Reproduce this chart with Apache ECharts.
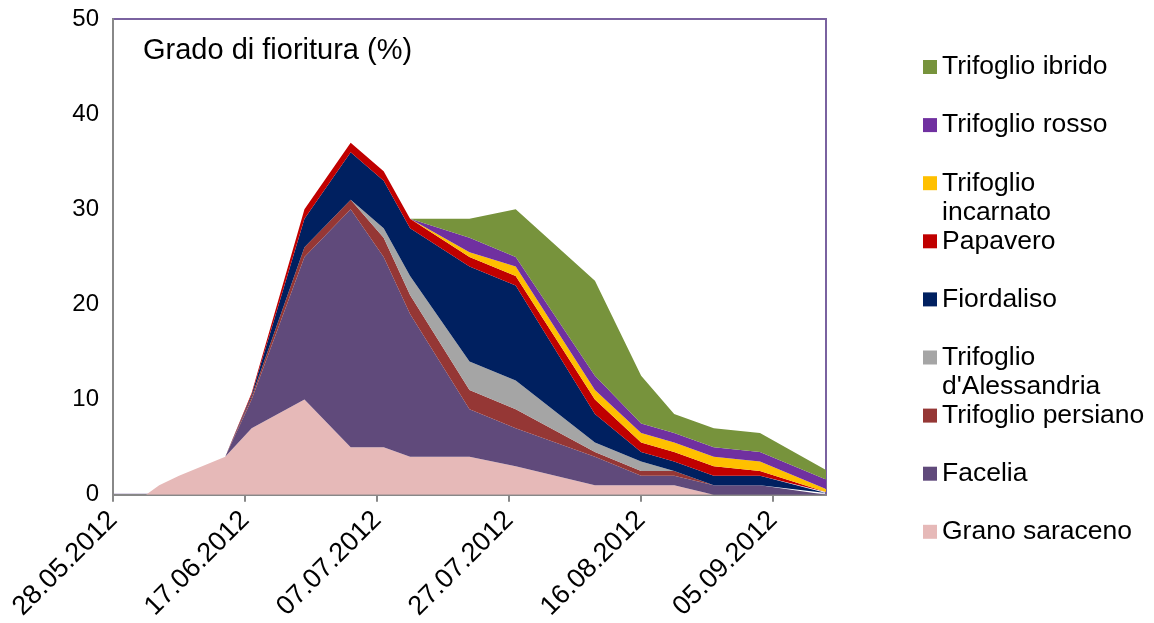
<!DOCTYPE html>
<html lang="it">
<head>
<meta charset="UTF-8">
<title>Grado di fioritura</title>
<style>
  * { margin: 0; padding: 0; }
  body { background: #fff; }
  #chart { width: 1154px; height: 623px; }
</style>
</head>
<body>
<div id="chart"></div>
<script src="https://cdn.jsdelivr.net/npm/echarts@6/dist/echarts.min.js"></script>
<script>
  // sampling dates (dd.mm.yyyy)
  var dates = ['02.06.2012', '04.06.2012', '07.06.2012', '14.06.2012', '18.06.2012', '26.06.2012',
    '03.07.2012', '08.07.2012', '12.07.2012', '21.07.2012', '28.07.2012', '09.08.2012',
    '16.08.2012', '21.08.2012', '27.08.2012', '03.09.2012', '13.09.2012'];
  var axisStart = '28.05.2012';
  var axisEnd = '13.09.2012';

  // values per species, % of flowering (stacked from the bottom up)
  var granoSaraceno = [0, 1, 2, 4, 7, 10, 5, 5, 4, 4, 3, 1, 1, 1, 0, 0, 0];
  var facelia = [0, 0, 0, 0, 3, 15, 25, 20, 15, 5, 4, 3, 1, 1, 1, 1, 0];
  var trifoglioPersiano = [0, 0, 0, 0, 0.3, 1, 1, 2, 2, 2, 2, 0.5, 0.5, 0.5, 0, 0, 0];
  var trifoglioAlessandria = [0, 0, 0, 0, 0, 0, 0, 1, 2, 3, 3, 1, 1, 0, 0, 0, 0];
  var fiordaliso = [0, 0, 0, 0, 0.2, 3, 5, 5, 5, 10, 10, 3, 1, 1, 1, 1, 0.2];
  var papavero = [0, 0, 0, 0, 0.2, 1, 1, 1, 1, 1, 1, 1.5, 1, 1, 1, 0.5, 0.1];
  var trifoglioIncarnato = [0, 0, 0, 0, 0, 0, 0, 0, 0, 0.5, 1, 1, 1, 1, 1, 1, 0.3];
  var trifoglioRosso = [0, 0, 0, 0, 0, 0, 0, 0, 0, 1.5, 1, 1.5, 1, 1, 1, 1, 1];
  var trifoglioIbrido = [0, 0, 0, 0, 0, 0, 0, 0, 0, 2, 5, 10, 5, 2, 2, 2, 1];

  var yTicks = [0, 10, 20, 30, 40, 50];

  var species = [
    { name: 'Grano saraceno', data: granoSaraceno, color: '#E6B9B8' },
    { name: 'Facelia', data: facelia, color: '#604A7B' },
    { name: 'Trifoglio persiano', data: trifoglioPersiano, color: '#953735' },
    { name: "Trifoglio d'Alessandria", data: trifoglioAlessandria, color: '#A5A5A5' },
    { name: 'Fiordaliso', data: fiordaliso, color: '#002060' },
    { name: 'Papavero', data: papavero, color: '#C00000' },
    { name: 'Trifoglio incarnato', data: trifoglioIncarnato, color: '#FFC000' },
    { name: 'Trifoglio rosso', data: trifoglioRosso, color: '#7030A0' },
    { name: 'Trifoglio ibrido', data: trifoglioIbrido, color: '#77933C' }
  ];

  // legend entries that wrap on two lines; the leading empty line keeps
  // the square next to the first line (legend text is centred on the icon)
  var wrapped = {
    'Trifoglio incarnato': '\nTrifoglio\nincarnato',
    "Trifoglio d'Alessandria": "\nTrifoglio\nd'Alessandria"
  };

  var font = '"Liberation Sans", Arial, sans-serif';
  var DAY = 86400000;

  function toTime(s) {
    var p = s.split('.');
    return Date.UTC(+p[2], +p[1] - 1, +p[0]);
  }
  var t0 = toTime(axisStart);
  function dayOffset(s) { return Math.round((toTime(s) - t0) / DAY); }
  function two(n) { return (n < 10 ? '0' : '') + n; }
  function dayLabel(v) {
    var d = new Date(t0 + v * DAY);
    return two(d.getUTCDate()) + '.' + two(d.getUTCMonth() + 1) + '.' + d.getUTCFullYear();
  }

  var xs = dates.map(dayOffset);

  // points are [value, day] with encode, so the stack goes on the value
  // (first dimension) and not on the day axis
  var series = species.map(function (s) {
    return {
      name: s.name,
      type: 'line',
      stack: 'fioritura',
      symbol: 'none',
      encode: { x: 1, y: 0 },
      lineStyle: { width: 0 },
      itemStyle: { color: s.color },
      areaStyle: { color: s.color, opacity: 1 },
      data: s.data.map(function (v, i) { return [v, xs[i]]; })
    };
  });

  var legendOrder = species.map(function (s) { return s.name; }).reverse();
  var legendFirst = 67, legendStep = 58.1;
  var legends = legendOrder.map(function (name, i) {
    var twoLines = !!wrapped[name];
    var cy = legendFirst + legendStep * i;
    return {
      data: [name],
      left: 923,
      top: twoLines ? cy - 43.5 : cy - 14.5,
      padding: 0,
      icon: 'rect',
      itemWidth: 14,
      itemHeight: 14,
      selectedMode: false,
      formatter: function (n) { return wrapped[n] || n; },
      textStyle: { fontFamily: font, fontSize: 26.5, lineHeight: 29, color: '#000' }
    };
  });

  var chart = echarts.init(document.getElementById('chart'));
  chart.setOption({
    animation: false,
    title: {
      text: 'Grado di fioritura (%)',
      left: 143,
      top: 36,
      padding: 0,
      textStyle: { fontFamily: font, fontSize: 29, fontWeight: 'normal', color: '#000' }
    },
    legend: legends,
    grid: {
      left: 113, right: 328, top: 19, bottom: 128,
      show: true, borderColor: '#7A62A0', borderWidth: 2, backgroundColor: 'transparent'
    },
    xAxis: {
      type: 'value',
      min: 0,
      max: dayOffset(axisEnd),
      interval: 20,
      splitLine: { show: false },
      axisLine: { lineStyle: { color: '#888', width: 2 } },
      axisTick: { length: 7, lineStyle: { color: '#888', width: 2 } },
      axisLabel: {
        rotate: 45, margin: 21, showMaxLabel: false,
        fontFamily: font, fontSize: 27, color: '#000',
        formatter: dayLabel
      }
    },
    yAxis: {
      type: 'value',
      min: yTicks[0],
      max: yTicks[yTicks.length - 1],
      interval: yTicks[1] - yTicks[0],
      splitLine: { show: false },
      axisLine: { show: true, lineStyle: { color: '#888', width: 2 } },
      axisTick: { show: false },
      axisLabel: { margin: 14, fontFamily: font, fontSize: 24, color: '#000' }
    },
    series: series
  });
</script>
</body>
</html>
